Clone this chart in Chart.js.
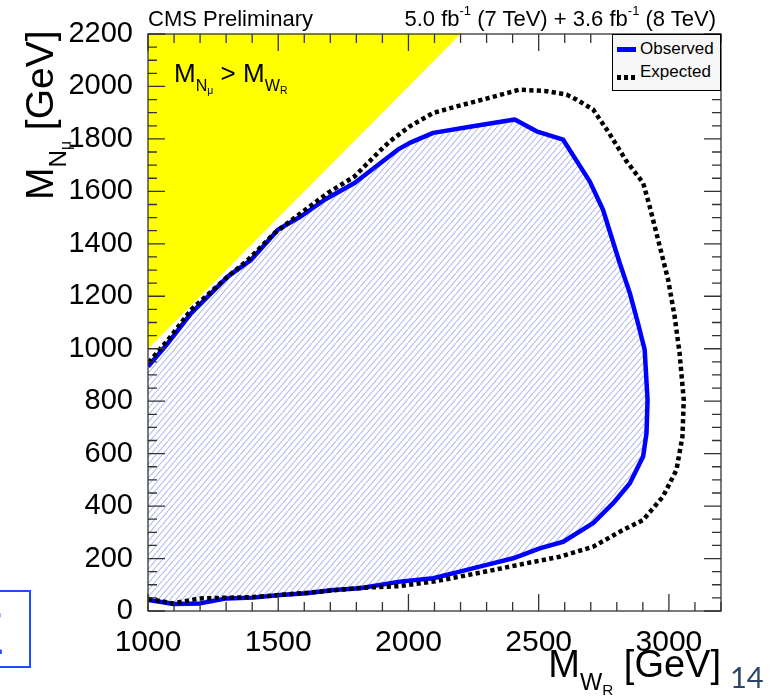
<!DOCTYPE html>
<html><head><meta charset="utf-8">
<script src="https://cdn.jsdelivr.net/npm/chart.js@4.4.1/dist/chart.umd.min.js"></script>
<style>
body{margin:0;background:#fff;}
#wrap{position:relative;width:770px;height:698px;overflow:hidden;font-family:'Liberation Sans',Arial,Helvetica,sans-serif;color:#000;}
#cw{position:absolute;left:0;top:0;width:770px;height:698px;}
.txt{position:absolute;white-space:nowrap;line-height:1;}
.s1{font-size:.62em;vertical-align:-.55em;line-height:0;}
.s2{font-size:.65em;vertical-align:-.3em;line-height:0;}
.sup{font-size:13px;vertical-align:11px;line-height:0;}
#legend{position:absolute;left:612px;top:34px;width:109px;height:57px;box-sizing:border-box;border:1.5px solid #000;background:#f7f7f7;}
.lg{position:absolute;font-size:17px;line-height:1;white-space:nowrap;}
</style></head>
<body>
<div id="wrap">
  <div id="cw"><canvas id="c"></canvas></div>
  <div class="txt" style="left:148px;top:8px;font-size:22px;">CMS Preliminary</div>
  <div class="txt" style="right:54px;top:8px;font-size:22px;">5.0 fb<span class="sup">-1</span> (7 TeV) + 3.6 fb<span class="sup">-1</span> (8 TeV)</div>
  <div class="txt" style="left:174px;top:60px;font-size:26px;">M<span class="s1">N<span class="s2">μ</span></span> &gt; M<span class="s1">W<span class="s2">R</span></span></div>
  <div class="txt" style="right:49px;top:645px;font-size:38px;">M<span class="s1">W<span class="s2">R</span></span> [GeV]</div>
  <div class="txt" style="left:20px;top:200px;font-size:39px;transform-origin:0 0;transform:rotate(-90deg);">M<span class="s1">N<span class="s2">μ</span></span> [GeV]</div>
  <div id="legend">
    <div style="position:absolute;left:4px;top:12px;width:19px;height:5px;background:#0000ff;"></div>
    <div class="lg" style="left:27px;top:5px;">Observed</div>
    <div style="position:absolute;left:4px;top:40px;width:19px;height:5px;background:repeating-linear-gradient(to right,#000 0 4px,transparent 4px 7px);"></div>
    <div class="lg" style="left:27px;top:28px;">Expected</div>
  </div>
  <div style="position:absolute;left:-2px;top:590px;width:33px;height:78px;box-sizing:border-box;border:2px solid #1a4dff;overflow:hidden;">
    <div class="txt" style="left:-33px;top:12px;font-size:60px;color:#1a4dff;">Z</div>
  </div>
  <div class="txt" style="left:730px;top:662px;font-size:29px;font-family:Lato,'Open Sans',sans-serif;color:#2c4766;">14</div>
</div>
<script>
// ---- axis definitions ----
const xTickLabels = [1000, 1500, 2000, 2500, 3000];
const yTickLabels = [0, 200, 400, 600, 800, 1000, 1200, 1400, 1600, 1800, 2000, 2200];
const xRange = [1000, 3200];
const yRange = [0, 2200];

// ---- observed limit contour (M_WR, M_N) ----
const obsX = [1000,1046,1097,1200,1302,1404,1507,1609,1711,1814,1967,2095,2197,2300,2402,2504,2594,2709,2786,2850,2901,2914,2918,2907,2881,2850,2811,2779,2747,2696,2594,2492,2408,2248,2095,2005,1959,1793,1678,1588,1499,1396,1307,1166,1077,1000];
const obsY = [42,35,27,29,48,51,61,68,80,87,112,125,150,176,201,239,264,335,411,487,589,678,805,996,1098,1212,1327,1428,1530,1638,1797,1829,1874,1848,1823,1785,1759,1632,1568,1505,1454,1339,1276,1136,1022,932];

// ---- expected limit contour ----
const expX = [1000,1096,1200,1403,1606,1813,1967,2095,2197,2325,2453,2581,2709,2824,2901,2977,3029,3052,3057,3041,3022,2997,2965,2926,2901,2837,2766,2709,2645,2607,2530,2427,2312,2185,2095,2005,1929,1895,1793,1691,1588,1486,1384,1307,1166,1077,1000];
const expY = [46,29,48,53,69,88,95,112,131,156,182,207,245,309,347,436,538,665,805,983,1123,1263,1390,1543,1632,1715,1829,1912,1950,1969,1982,1988,1957,1924,1899,1848,1791,1759,1657,1594,1518,1441,1339,1276,1149,1034,945];

// ---- forbidden region M_N > M_WR ----
const triX = [1000, 2200, 1000];
const triY = [1000, 2200, 2200];

const zip = (xs, ys) => xs.map((x, i) => ({x, y: ys[i]}));

function hatch() {
  const w = 6, h = 7;
  const c = document.createElement('canvas'); c.width = w; c.height = h;
  const g = c.getContext('2d');
  g.fillStyle = '#ffffff'; g.fillRect(0, 0, w, h);
  g.strokeStyle = '#b2b8f2'; g.lineWidth = 1.1;
  g.beginPath();
  [[-w,h,0,0],[0,h,w,0],[w,h,2*w,0]].forEach(([a,b,c2,d]) => { g.moveTo(a,b); g.lineTo(c2,d); });
  g.stroke();
  return g.createPattern(c, 'repeat');
}

const frameTicks = {
  id: 'frameTicks',
  afterDatasetsDraw(chart) {
    const {ctx, chartArea: a, scales: {x, y}} = chart;
    ctx.save();
    ctx.strokeStyle = '#333';
    ctx.lineWidth = 1.3;
    ctx.beginPath();
    for (let v = xRange[0]; v <= xRange[1]; v += 100) {
      const p = x.getPixelForValue(v);
      const len = xTickLabels.includes(v) ? 17 : 9;
      ctx.moveTo(p, a.bottom); ctx.lineTo(p, a.bottom - len);
      ctx.moveTo(p, a.top); ctx.lineTo(p, a.top + len);
    }
    for (let v = yRange[0]; v <= yRange[1]; v += 50) {
      const p = y.getPixelForValue(v);
      const len = yTickLabels.includes(v) ? 17 : 9;
      ctx.moveTo(a.left, p); ctx.lineTo(a.left + len, p);
      ctx.moveTo(a.right, p); ctx.lineTo(a.right - len, p);
    }
    ctx.stroke();
    ctx.strokeRect(a.left, a.top, a.right - a.left, a.bottom - a.top);
    ctx.restore();
  }
};

Chart.defaults.font.family = "'Liberation Sans', Arial, Helvetica, sans-serif";

new Chart(document.getElementById('c'), {
  type: 'line',
  data: {
    datasets: [
      { label: 'Expected', data: zip(expX, expY), order: 0,
        borderColor: '#000', borderWidth: 4.5, borderDash: [4.2, 3.3], borderCapStyle: 'butt',
        fill: false, pointRadius: 0, tension: 0 },
      { label: 'Observed', data: zip(obsX, obsY), order: 1,
        borderColor: '#0000ff', borderWidth: 4.5, borderJoinStyle: 'round',
        backgroundColor: hatch(), fill: 'shape', pointRadius: 0, tension: 0 },
      { label: 'excluded', data: zip(triX, triY), order: 2,
        borderWidth: 0, borderColor: 'rgba(0,0,0,0)', backgroundColor: '#ffff00',
        fill: 'shape', pointRadius: 0, tension: 0 }
    ]
  },
  options: {
    responsive: true, maintainAspectRatio: false, animation: false,
    devicePixelRatio: 1,
    layout: { padding: { left: 0, right: 49, top: 34, bottom: 0 } },
    plugins: { legend: { display: false }, tooltip: { enabled: false } },
    scales: {
      x: {
        type: 'linear', min: xRange[0], max: xRange[1],
        grid: { display: false }, border: { display: false },
        afterBuildTicks: s => { s.ticks = xTickLabels.map(v => ({value: v})); },
        afterFit: s => { s.height = 87; },
        ticks: { font: { size: 30 }, color: '#000', padding: 6, maxRotation: 0, autoSkip: false, callback: v => String(v) }
      },
      y: {
        type: 'linear', min: yRange[0], max: yRange[1],
        grid: { display: false }, border: { display: false },
        afterBuildTicks: s => { s.ticks = yTickLabels.map(v => ({value: v})); },
        afterFit: s => { s.width = 148; },
        ticks: { font: { size: 29 }, color: '#000', padding: 7, autoSkip: false, callback: v => String(v) }
      }
    }
  },
  plugins: [frameTicks]
});
</script>
</body></html>
